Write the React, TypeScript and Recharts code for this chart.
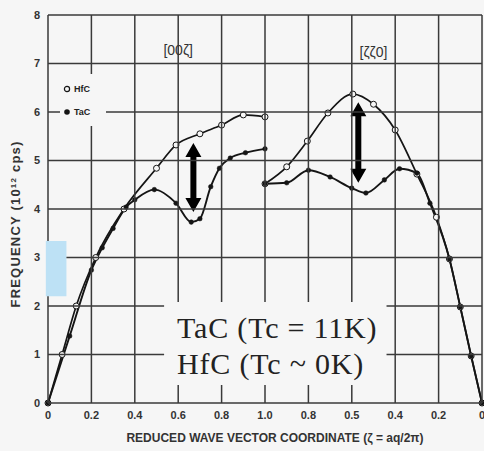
import {
  ComposedChart,
  Line,
  XAxis,
  YAxis,
  ReferenceArea,
  ReferenceLine,
  ReferenceDot,
  Legend,
} from 'recharts'

// axis position: 0..1 is the [00ζ] branch, 1..2 is the [ζζ0] branch read backwards
const xTicks = [0, 0.2, 0.4, 0.6, 0.8, 1.0, 1.2, 1.4, 1.6, 1.8, 2.0]
const xTickLabels = ['0', '0.2', '0.4', '0.6', '0.8', '1.0', '0.8', '0.5', '0.4', '0.2', '0']
const yTicks = [0, 1, 2, 3, 4, 5, 6, 7, 8]

// [00ζ]
const hfcLeftX = [0, 0.065, 0.13, 0.22, 0.35, 0.5, 0.59, 0.7, 0.8, 0.9, 1.0]
const hfcLeftY = [0, 1.0, 2.0, 3.0, 4.0, 4.84, 5.32, 5.55, 5.73, 5.94, 5.9]
const tacLeftX = [0, 0.1, 0.2, 0.25, 0.3, 0.36, 0.4, 0.49, 0.59, 0.66, 0.7, 0.75, 0.79, 0.84, 0.91, 1.0]
const tacLeftY = [0, 1.38, 2.74, 3.2, 3.6, 4.04, 4.19, 4.4, 4.12, 3.73, 3.8, 4.46, 4.84, 5.05, 5.16, 5.24]

// [ζζ0]
const hfcRightX = [1.0, 1.1, 1.195, 1.29, 1.405, 1.5, 1.6, 1.7, 1.79, 1.85, 1.9, 1.95, 2.0]
const hfcRightY = [4.52, 4.87, 5.4, 5.98, 6.37, 6.16, 5.63, 4.72, 3.83, 2.97, 1.98, 0.97, 0]
const tacRightX = [1.0, 1.1, 1.2, 1.3, 1.4, 1.465, 1.55, 1.62, 1.7, 1.76, 1.85, 1.9, 1.95, 2.0]
const tacRightY = [4.52, 4.54, 4.8, 4.66, 4.43, 4.33, 4.6, 4.83, 4.74, 4.12, 2.97, 1.98, 0.97, 0]

// softening arrows (HfC -> TaC)
const arrowX = [0.67, 1.43]
const arrowLow = [3.94, 4.54]
const arrowHigh = [5.36, 6.2]

// blank patch behind the Tc text, and the blue highlight on the axis
const textBoxX = [0.535, 1.56]
const textBoxY = [0.37, 2.08]
const blueBoxX = [-0.01, 0.085]
const blueBoxY = [2.2, 3.34]
const xDomain = [0, 2]
const yDomain = [0, 8]

const BG = '#f6f6f6'
const INK = '#151515'
const GRID = '#3a3a3a'
const SANS = 'Liberation Sans, Arial, sans-serif'

// chart layout
const CHART_W = 484
const CHART_H = 451
const M_TOP = 15
const M_RIGHT = 2
const X_AXIS_H = 48
const Y_AXIS_W = 48
const PLOT_BOTTOM = CHART_H - X_AXIS_H
const PLOT_RIGHT = CHART_W - M_RIGHT

const spanX = (v: number) => Y_AXIS_W + ((v - xDomain[0]) / (xDomain[1] - xDomain[0])) * (PLOT_RIGHT - Y_AXIS_W)
const spanY = (v: number) => PLOT_BOTTOM - ((v - yDomain[0]) / (yDomain[1] - yDomain[0])) * (PLOT_BOTTOM - M_TOP)

const rows = (xs: number[], ys: number[]) => xs.map((x, i) => ({ x, y: ys[i] }))

// vertical grid line drawn with each x tick, gapped at the text patch / blue patch
const XTick = (props: any) => {
  const { x, y, payload } = props
  const t = payload.value
  let parts: number[][] = [[yDomain[0], yDomain[1]]]
  if (t > textBoxX[0] && t < textBoxX[1]) parts = [[yDomain[0], textBoxY[0]], [textBoxY[1], yDomain[1]]]
  if (t >= blueBoxX[0] && t <= blueBoxX[1]) parts = [[yDomain[0], blueBoxY[0]], [blueBoxY[1], yDomain[1]]]
  const d = parts.map((p) => `M${x},${spanY(p[0])} L${x},${spanY(p[1])}`).join(' ')
  return (
    <g>
      <path d={d} stroke={GRID} strokeWidth={1.5} fill="none" />
      <text x={x} y={y} dy="0.71em" textAnchor="middle" fontSize={11} fontWeight="bold" fill="#333" fontFamily={SANS}>
        {xTickLabels[xTicks.indexOf(t)]}
      </text>
    </g>
  )
}

// horizontal grid line drawn with each y tick
const YTick = (props: any) => {
  const { x, y, payload } = props
  const t = payload.value
  let parts: number[][] = [[xDomain[0], xDomain[1]]]
  if (t > blueBoxY[0] && t < blueBoxY[1]) parts = [[blueBoxX[1], xDomain[1]]]
  else if (t > textBoxY[0] && t < textBoxY[1]) parts = [[xDomain[0], textBoxX[0]], [textBoxX[1], xDomain[1]]]
  const d = parts.map((p) => `M${spanX(p[0])},${y} L${spanX(p[1])},${y}`).join(' ')
  return (
    <g>
      <path d={d} stroke={GRID} strokeWidth={1.5} fill="none" />
      <text x={x} y={y} dy="0.355em" textAnchor="end" fontSize={11} fontWeight="bold" fill="#333" fontFamily={SANS}>
        {t}
      </text>
    </g>
  )
}

const openDot = { r: 3, fill: BG, stroke: INK, strokeWidth: 1 }
const fullDot = { r: 2.3, fill: INK, stroke: INK, strokeWidth: 0.5 }

const DoubleArrow = (props: any) => {
  const { x1, y1, y2 } = props
  const top = Math.min(y1, y2)
  const bot = Math.max(y1, y2)
  const head = 14
  const half = 8
  const s = 3
  const d = `M${x1},${top} L${x1 + half},${top + head} L${x1 + s},${top + head} L${x1 + s},${bot - head} L${x1 + half},${bot - head} L${x1},${bot} L${x1 - half},${bot - head} L${x1 - s},${bot - head} L${x1 - s},${top + head} L${x1 - half},${top + head} Z`
  return <path d={d} fill="#000" />
}

const renderLegend = (props: any) => {
  const items = (props.payload || []).filter((p: any) => p.type !== 'none')
  return (
    <div style={{ background: BG, padding: '3px 2px' }}>
      {items.map((p: any) => (
        <div
          key={p.value}
          style={{ display: 'flex', alignItems: 'center', height: 23, fontSize: 9, fontWeight: 'bold', fontFamily: SANS, color: '#222' }}
        >
          <svg width={12} height={10}>
            {p.value === 'HfC' ? (
              <circle cx={5} cy={5} r={2.6} fill={BG} stroke={INK} strokeWidth={1.2} />
            ) : (
              <circle cx={5} cy={5} r={2.8} fill={INK} />
            )}
          </svg>
          <span>{p.value}</span>
        </div>
      ))}
    </div>
  )
}

export default function App() {
  return (
    <div style={{ position: 'absolute', left: 0, top: 0, width: CHART_W, height: CHART_H, background: BG }}>
      <ComposedChart width={CHART_W} height={CHART_H} margin={{ top: M_TOP, right: M_RIGHT, left: 0, bottom: 0 }}>
        <XAxis
          type="number"
          dataKey="x"
          domain={xDomain}
          ticks={xTicks}
          interval={0}
          tick={XTick}
          tickLine={false}
          axisLine={false}
          height={X_AXIS_H}
          label={{
            content: () => (
              <text x={275} y={442} textAnchor="middle" fontSize={12} fontWeight="bold" fill="#333" fontFamily={SANS}>
                REDUCED WAVE VECTOR COORDINATE (ζ = aq/2π)
              </text>
            ),
          }}
        />
        <YAxis
          type="number"
          domain={yDomain}
          ticks={yTicks}
          interval={0}
          tick={YTick}
          tickLine={false}
          axisLine={false}
          width={Y_AXIS_W}
          label={{
            content: () => (
              <text transform="translate(20,224) rotate(-90)" textAnchor="middle" fontSize={13} letterSpacing={1.2} fontWeight="bold" fill="#333" fontFamily={SANS}>
                FREQUENCY (10
                <tspan dy={-4} fontSize={8}>12</tspan>
                <tspan dy={4}> cps)</tspan>
              </text>
            ),
          }}
        />
        <ReferenceArea
          x1={blueBoxX[0]}
          x2={blueBoxX[1]}
          y1={blueBoxY[0]}
          y2={blueBoxY[1]}
          fill="#bde1f5"
          fillOpacity={1}
          stroke="none"
          ifOverflow="visible"
        />
        <ReferenceArea
          x1={textBoxX[0]}
          x2={textBoxX[1]}
          y1={textBoxY[0]}
          y2={textBoxY[1]}
          fill={BG}
          fillOpacity={0}
          stroke="none"
          label={{
            content: (p: any) => {
              const vb = p.viewBox || { x: 0, y: 0 }
              return (
                <g fontFamily="Liberation Serif, Times New Roman, serif" fontSize={30} letterSpacing={0.8} fill="#222">
                  <text x={vb.x + 13} y={vb.y + 36}>TaC (Tc = 11K)</text>
                  <text x={vb.x + 13} y={vb.y + 72}>HfC (Tc ~ 0K)</text>
                </g>
              )
            },
          }}
        />
        <ReferenceDot x={0.6} y={7.28} r={0} fill="none" stroke="none" label={{ value: '[00ζ]', position: 'center', fontSize: 14, fill: '#333', fontFamily: SANS }} />
        <ReferenceDot x={1.5} y={7.24} r={0} fill="none" stroke="none" label={{ value: '[ζζ0]', position: 'center', fontSize: 14, fill: '#333', fontFamily: SANS }} />
        <Line data={rows(hfcLeftX, hfcLeftY)} dataKey="y" name="HfC" type="monotone" stroke={INK} strokeWidth={1.7} dot={openDot} isAnimationActive={false} />
        <Line data={rows(tacLeftX, tacLeftY)} dataKey="y" name="TaC" type="monotone" stroke={INK} strokeWidth={1.9} dot={fullDot} isAnimationActive={false} />
        <Line data={rows(hfcRightX, hfcRightY)} dataKey="y" name="HfC right" legendType="none" type="monotone" stroke={INK} strokeWidth={1.7} dot={openDot} isAnimationActive={false} />
        <Line data={rows(tacRightX, tacRightY)} dataKey="y" name="TaC right" legendType="none" type="monotone" stroke={INK} strokeWidth={1.9} dot={fullDot} isAnimationActive={false} />
        {arrowX.map((x, i) => (
          <ReferenceLine key={'a' + i} segment={[{ x, y: arrowLow[i] }, { x, y: arrowHigh[i] }]} shape={DoubleArrow} />
        ))}
        <Legend
          layout="vertical"
          align="center"
          verticalAlign="middle"
          content={renderLegend}
          wrapperStyle={{ left: 60, top: 74, width: 46, right: 'auto', bottom: 'auto' }}
        />
      </ComposedChart>
    </div>
  )
}
